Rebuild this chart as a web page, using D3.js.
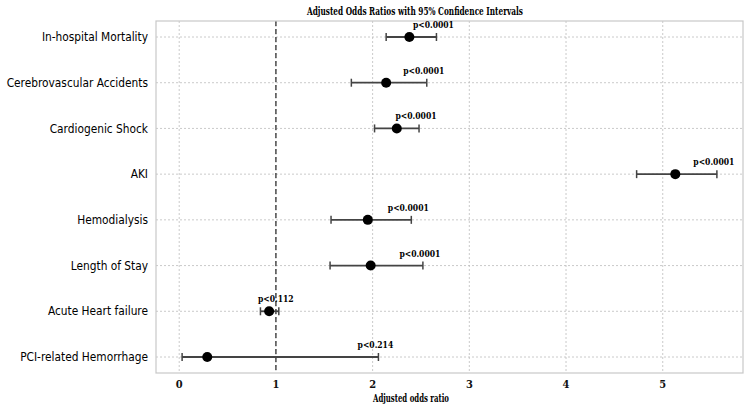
<!DOCTYPE html>
<html>
<head>
<meta charset="utf-8">
<script src="https://cdn.jsdelivr.net/npm/d3@7"></script>
<style>
  body { margin: 0; background: #fff; }
  svg { display: block; }
</style>
</head>
<body>
<svg id="chart" width="750" height="411"></svg>
<script>
// outcomes, top to bottom
var outcomes = ["In-hospital Mortality", "Cerebrovascular Accidents", "Cardiogenic Shock", "AKI",
                "Hemodialysis", "Length of Stay", "Acute Heart failure", "PCI-related Hemorrhage"];
var oddsRatio = [2.38, 2.14, 2.25, 5.13, 1.95, 1.98, 0.93, 0.29];
var ciLower   = [2.14, 1.78, 2.02, 4.73, 1.57, 1.56, 0.84, 0.03];
var ciUpper   = [2.66, 2.56, 2.48, 5.56, 2.40, 2.52, 1.03, 2.06];
var pLabels   = ["p<0.0001", "p<0.0001", "p<0.0001", "p<0.0001", "p<0.0001", "p<0.0001", "p<0.112", "p<0.214"];
var xTicks    = [0, 1, 2, 3, 4, 5];

var svg = d3.select("#chart");
var pLeft = 156, pRight = 743, pTop = 21, pBottom = 373;
var serif = "'DejaVu Serif Condensed', 'DejaVu Serif', serif";

var x = d3.scaleLinear().domain([-0.24, 5.83]).range([pLeft, pRight]);
var y = d3.scaleLinear().domain([-0.35, outcomes.length - 0.65]).range([pTop, pBottom]);

// gridlines
svg.append("g").selectAll("line").data(xTicks).enter().append("line")
  .attr("x1", d => x(d)).attr("x2", d => x(d))
  .attr("y1", pTop).attr("y2", pBottom)
  .attr("stroke", "#bdbdbd").attr("stroke-width", 0.8).attr("stroke-dasharray", "2,2");
svg.append("g").selectAll("line").data(outcomes).enter().append("line")
  .attr("x1", pLeft).attr("x2", pRight)
  .attr("y1", (d, i) => y(i)).attr("y2", (d, i) => y(i))
  .attr("stroke", "#bdbdbd").attr("stroke-width", 0.8).attr("stroke-dasharray", "2,2");

// reference line at 1
svg.append("line")
  .attr("x1", x(1)).attr("x2", x(1)).attr("y1", pTop).attr("y2", pBottom)
  .attr("stroke", "#333").attr("stroke-width", 1.3).attr("stroke-dasharray", "5,3");

// frame
svg.append("rect")
  .attr("x", pLeft).attr("y", pTop).attr("width", pRight - pLeft).attr("height", pBottom - pTop)
  .attr("fill", "none").attr("stroke", "#c8c8c8").attr("stroke-width", 1.2);

// error bars
var rows = svg.append("g").selectAll("g").data(outcomes).enter().append("g");
rows.append("line")
  .attr("x1", (d, i) => x(ciLower[i])).attr("x2", (d, i) => x(ciUpper[i]))
  .attr("y1", (d, i) => y(i)).attr("y2", (d, i) => y(i))
  .attr("stroke", "#444").attr("stroke-width", 1.8);
rows.append("line")
  .attr("x1", (d, i) => x(ciLower[i])).attr("x2", (d, i) => x(ciLower[i]))
  .attr("y1", (d, i) => y(i) - 4).attr("y2", (d, i) => y(i) + 4)
  .attr("stroke", "#444").attr("stroke-width", 1.5);
rows.append("line")
  .attr("x1", (d, i) => x(ciUpper[i])).attr("x2", (d, i) => x(ciUpper[i]))
  .attr("y1", (d, i) => y(i) - 4).attr("y2", (d, i) => y(i) + 4)
  .attr("stroke", "#444").attr("stroke-width", 1.5);
rows.append("circle")
  .attr("cx", (d, i) => x(oddsRatio[i])).attr("cy", (d, i) => y(i)).attr("r", 5)
  .attr("fill", "#000");
rows.append("text")
  .attr("x", (d, i) => x(ciUpper[i]) - 3).attr("y", (d, i) => y(i) - 9)
  .attr("text-anchor", "middle")
  .style("font-family", serif)
  .style("font-weight", "bold").style("font-size", "8.5px")
  .text((d, i) => pLabels[i]);

// y labels
svg.append("g").selectAll("text").data(outcomes).enter().append("text")
  .attr("x", pLeft - 8).attr("y", (d, i) => y(i)).attr("dy", "0.35em")
  .attr("text-anchor", "end")
  .style("font-family", "'DejaVu Sans Condensed', 'DejaVu Sans', sans-serif")
  .style("font-size", "11.8px").style("fill", "#000")
  .text(d => d);

// x tick labels
svg.append("g").selectAll("text").data(xTicks).enter().append("text")
  .attr("x", d => x(d)).attr("y", pBottom + 15)
  .attr("text-anchor", "middle")
  .style("font-family", serif).style("font-weight", "bold").style("font-size", "11px").style("fill", "#111")
  .text(d => d);

// titles
svg.append("text")
  .attr("x", 415).attr("y", 15).attr("text-anchor", "middle")
  .attr("textLength", 216).attr("lengthAdjust", "spacingAndGlyphs")
  .style("font-family", serif)
  .style("font-weight", "bold").style("font-size", "11.5px")
  .text("Adjusted Odds Ratios with 95% Confidence Intervals");
svg.append("text")
  .attr("x", 411).attr("y", 402).attr("text-anchor", "middle")
  .attr("textLength", 76).attr("lengthAdjust", "spacingAndGlyphs")
  .style("font-family", serif)
  .style("font-weight", "bold").style("font-size", "11px")
  .text("Adjusted odds ratio");
</script>
</body>
</html>
